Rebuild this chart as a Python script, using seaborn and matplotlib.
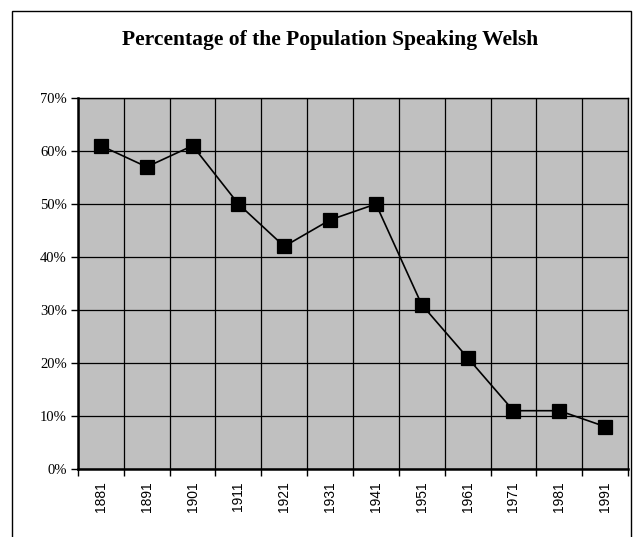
import matplotlib
matplotlib.use("Agg")
import matplotlib.pyplot as plt
import seaborn as sns
import pandas as pd
from matplotlib.patches import Rectangle
from matplotlib.ticker import FixedLocator

years = ["1881", "1891", "1901", "1911", "1921", "1931", "1941", "1951", "1961", "1971", "1981", "1991"]
percent = [61, 57, 61, 50, 42, 47, 50, 31, 21, 11, 11, 8]
y_ticks = [0, 10, 20, 30, 40, 50, 60, 70]
y_tick_labels = ["0%", "10%", "20%", "30%", "40%", "50%", "60%", "70%"]
title = "Percentage of the Population Speaking Welsh"

df = pd.DataFrame({"year": years, "pct": percent})

sns.set_theme(style="white")
plt.rcParams.update({"text.color": "black", "xtick.color": "black",
                     "ytick.color": "black", "axes.labelcolor": "black"})
fig = plt.figure(figsize=(6.33, 5.37), dpi=100)
fig.patch.set_facecolor("white")
ax = fig.add_axes([78/633, 1 - 469/537, (628-78)/633, (469-98)/537])
ax.set_facecolor("#C0C0C0")

sns.pointplot(data=df, x="year", y="pct", color="black", markers="s",
              linestyles="-", ax=ax, markersize=9.5, linewidth=1.2)

ax.set_xlim(-0.5, len(years) - 0.5)
ax.set_ylim(0, 70)

# grid at category boundaries
ax.xaxis.set_major_locator(FixedLocator([i - 0.5 for i in range(len(years) + 1)]))
ax.xaxis.set_minor_locator(FixedLocator(list(range(len(years)))))
ax.set_xticklabels([""] * (len(years) + 1))
ax.set_xticklabels(years, minor=True, rotation=90, family="Liberation Sans", fontsize=10, color="black")
ax.tick_params(axis="x", which="major", length=5, width=1, color="black", direction="out", bottom=True)
ax.tick_params(axis="x", which="minor", length=0, pad=9)
ax.set_yticks(y_ticks)
ax.set_yticklabels(y_tick_labels, family="Liberation Serif", fontsize=10.5, color="black")
ax.tick_params(axis="y", length=5, width=1, color="black", direction="out", left=True, pad=3)
ax.grid(True, which="major", color="black", linewidth=0.9)
ax.set_axisbelow(True)
ax.set_xlabel("")
ax.set_ylabel("")
for side, sp in ax.spines.items():
    sp.set_visible(True)
    sp.set_color("black")
    sp.set_linewidth(1.0)
ax.spines["left"].set_linewidth(1.8)
ax.spines["bottom"].set_linewidth(1.8)

fig.text(330/633, 1 - 40/537, title, ha="center", va="center",
         family="Liberation Serif", fontweight="bold", fontsize=15.5, color="black")

fig.patches.append(Rectangle((12/633, -0.1), (631-12)/633, 1.1 - 11/537,
                             transform=fig.transFigure, fill=False,
                             edgecolor="black", linewidth=1.0))

fig.savefig("out.png", dpi=100)
